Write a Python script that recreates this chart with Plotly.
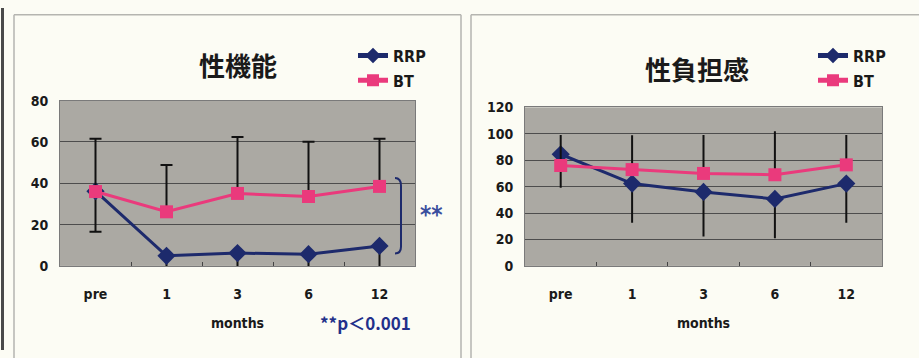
import plotly.graph_objects as go

W, H = 919, 358

months = ["pre", "1", "3", "6", "12"]

# 性機能 (sexual function)
sf_rrp = [36.2, 4.9, 6.2, 5.7, 9.7]
sf_rrp_sd = [19.6, 6.4, 7.0, 7.2, 13.1]
sf_bt = [36.0, 26.2, 35.1, 33.6, 38.5]
sf_bt_sd = [25.6, 22.7, 27.3, 26.5, 23.1]

# 性負担感 (sexual bother)
sb_rrp = [84.5, 62.3, 56.0, 50.7, 62.3]
sb_rrp_sd = [25.3, 29.7, 33.8, 29.7, 29.7]
sb_bt = [76.0, 72.9, 70.0, 69.0, 76.5]
sb_bt_sd = [23.0, 26.0, 29.0, 33.0, 22.5]

NAVY = "#1d2a6c"
PINK = "#ea3a7c"
CREAM = "#fcfcf4"
PLOTGRAY = "#aba9a3"
FONT = "DejaVu Sans Condensed"


def px(x):
    return x / W


def py(y):
    return 1 - y / H


zeros = [0] * 5

fig = go.Figure()

for i, (rrp, rrp_sd, bt, bt_sd, cap) in enumerate([
    (sf_rrp, sf_rrp_sd, sf_bt, sf_bt_sd, 6),
    (sb_rrp, sb_rrp_sd, sb_bt, sb_bt_sd, 0),
]):
    xa = "x" if i == 0 else "x2"
    ya = "y" if i == 0 else "y2"
    leg = "legend" if i == 0 else "legend2"
    fig.add_trace(go.Scatter(
        x=months, y=rrp, name="RRP", mode="lines+markers",
        xaxis=xa, yaxis=ya, legend=leg, legendgroup="rrp%d" % i, cliponaxis=False,
        line=dict(color=NAVY, width=3),
        marker=dict(symbol="diamond", size=14, color=NAVY),
        error_y=dict(type="data", symmetric=False, array=zeros, arrayminus=rrp_sd,
                     color="#111111", thickness=2, width=cap),
    ))
    fig.add_trace(go.Scatter(
        x=months, y=bt, name="BT", mode="lines+markers",
        xaxis=xa, yaxis=ya, legend=leg, legendgroup="bt%d" % i, cliponaxis=False,
        line=dict(color=PINK, width=3),
        marker=dict(symbol="square", size=13, color=PINK),
        error_y=dict(type="data", symmetric=False, array=bt_sd, arrayminus=zeros,
                     color="#111111", thickness=2, width=cap),
    ))

tickfont = dict(family=FONT, size=14, color="#1a1a1a", weight="bold")
xcommon = dict(type="category", range=[-0.5, 4.5], ticks="inside", tickson="boundaries",
               ticklen=4, tickcolor="#444", showline=True, linecolor="#7a7a7a", mirror=True,
               showgrid=False, tickfont=tickfont, ticklabelstandoff=15,
               title=dict(text="months", standoff=17,
                          font=dict(family=FONT, size=14, color="#1a1a1a", weight="bold")))
ycommon = dict(showline=True, linecolor="#7a7a7a", mirror=True, ticks="",
               gridcolor="#4d4d4d", gridwidth=1, zeroline=False,
               tickfont=tickfont, ticklabelstandoff=8)

legfont = dict(family=FONT, size=16, color="#1a1a1a", weight="bold")

fig.update_layout(
    width=W, height=H,
    margin=dict(l=0, r=0, t=0, b=0),
    paper_bgcolor=CREAM,
    plot_bgcolor=PLOTGRAY,
    xaxis=dict(domain=[px(60), px(415)], anchor="y", **xcommon),
    yaxis=dict(domain=[py(270), py(97)], anchor="x", range=[0, 80], dtick=20, **ycommon),
    xaxis2=dict(domain=[px(525), px(882)], anchor="y2", **xcommon),
    yaxis2=dict(domain=[py(270), py(104)], anchor="x2", range=[0, 120], dtick=20, **ycommon),
    legend=dict(x=px(353), y=py(32), xanchor="left", yanchor="top", itemsizing="constant",
                bgcolor="rgba(0,0,0,0)", font=legfont, tracegroupgap=1),
    legend2=dict(x=px(813), y=py(32), xanchor="left", yanchor="top", itemsizing="constant",
                 bgcolor="rgba(0,0,0,0)", font=legfont, tracegroupgap=1),
    showlegend=True,
)

title_font = dict(family="Noto Sans CJK JP", size=26, color="#1a1a1a", weight="bold")
for text, x, y in [("性機能", 238, 59), ("性負担感", 697, 63)]:
    fig.add_annotation(text=text, x=px(x), y=py(y), xref="paper", yref="paper",
                       xanchor="center", yanchor="middle", showarrow=False, font=title_font)

# significance marks
fig.add_annotation(text="**", x=px(431), y=py(217), xref="paper", yref="paper",
                   xanchor="center", yanchor="middle", showarrow=False,
                   font=dict(family=FONT, size=24, color="#3b4f9e", weight="bold"))
fig.add_annotation(text="**p＜0.001", x=px(365), y=py(329), xref="paper", yref="paper",
                   xanchor="center", yanchor="middle", showarrow=False,
                   font=dict(family="Noto Sans CJK JP", size=17, color="#22308a", weight="bold"))

bracket = "M {:.5f},{:.5f} Q {:.5f},{:.5f} {:.5f},{:.5f} L {:.5f},{:.5f} Q {:.5f},{:.5f} {:.5f},{:.5f}".format(
    px(395), py(178), px(401), py(178), px(401), py(186),
    px(401), py(250), px(401), py(257), px(395), py(257))
fig.add_shape(type="path", path=bracket, xref="paper", yref="paper",
              line=dict(color=NAVY, width=2))

# page edge and panel frames
fig.add_shape(type="line", x0=px(2.5), x1=px(2.5), y0=0, y1=1, xref="paper", yref="paper",
              line=dict(color="#4a4a4a", width=3))
for x0, x1 in [(14, 461), (471, 930)]:
    fig.add_shape(type="line", x0=px(x0), x1=px(x1), y0=py(7), y1=py(7),
                  xref="paper", yref="paper", line=dict(color="#b5b5b0", width=1.5))
    fig.add_shape(type="line", x0=px(x0), x1=px(x0), y0=py(7), y1=py(370),
                  xref="paper", yref="paper", line=dict(color="#b5b5b0", width=1.5))
fig.add_shape(type="line", x0=px(461), x1=px(461), y0=py(7), y1=py(370),
              xref="paper", yref="paper", line=dict(color="#b5b5b0", width=1.5))

fig.write_html("out.html", config={"displayModeBar": False},
               post_script="document.body.style.margin='0px';")
